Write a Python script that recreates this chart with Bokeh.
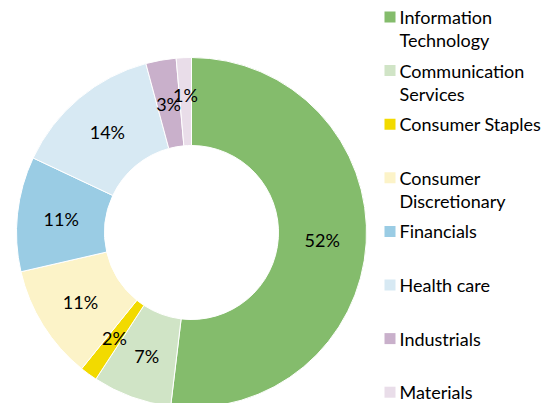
import math
from bokeh.plotting import figure
from bokeh.models import Range1d, ColumnDataSource
from bokeh.core.properties import value
from bokeh.embed import file_html
from bokeh.resources import INLINE

# ---- data ----
sectors = ["Information Technology", "Communication Services", "Consumer Staples",
           "Consumer Discretionary", "Financials", "Health care", "Industrials", "Materials"]
legend_lines = [["Information", "Technology"], ["Communication", "Services"], ["Consumer Staples"],
                ["Consumer", "Discretionary"], ["Financials"], ["Health care"], ["Industrials"], ["Materials"]]
shares = [51.9, 7.3, 1.6, 10.6, 10.6, 13.8, 2.8, 1.4]
colors = ["#84bc6c", "#d0e4c6", "#f2da00", "#fcf3c8", "#9acce4", "#d7e9f3", "#c9b0cb", "#e9dde9"]

W, H = 546, 403
FONT = "Lato"

p = figure(width=W, height=H, output_backend="svg", toolbar_location=None,
           x_range=Range1d(0, W), y_range=Range1d(0, H),
           min_border=0, outline_line_color=None)
p.axis.visible = False
p.grid.visible = False
p.background_fill_color = "white"

cx, cy = 191, H - 232
r_in, r_out = 87, 175
# label radius per slice (last tiny slice label pushed outward to avoid overlap)
label_r = [131, 131, 131, 131, 131, 131, 131, 138]

total = sum(shares)
starts, ends, lx, ly, labels = [], [], [], [], []
c = 0.0
for i, s in enumerate(shares):
    c0, c1 = c / total, (c + s) / total
    starts.append(math.pi / 2 - 2 * math.pi * c1)
    ends.append(math.pi / 2 - 2 * math.pi * c0)
    mid = math.pi / 2 - 2 * math.pi * (c0 + c1) / 2
    rm = label_r[i]
    lx.append(cx + rm * math.cos(mid))
    ly.append(cy + rm * math.sin(mid))
    labels.append(f"{round(s)}%")
    c += s

src = ColumnDataSource(dict(start=starts, end=ends, color=colors, lx=lx, ly=ly, label=labels))
p.annular_wedge(x=cx, y=cy, inner_radius=r_in, outer_radius=r_out,
                start_angle="start", end_angle="end", direction="anticlock",
                fill_color="color", line_color="white", line_width=1, source=src)
p.text(x="lx", y="ly", text="label", source=src, text_font=value(FONT),
       text_font_size="18px", text_color="#000000", text_align="center", text_baseline="middle")

# ---- legend ----
sq_x, sq_y, tx, ty, tt = [], [], [], [], []
for i, lines in enumerate(legend_lines):
    yc = H - (16.5 + 53.6 * i)
    sq_x.append(389.5)
    sq_y.append(yc)
    for j, ln in enumerate(lines):
        tx.append(399)
        ty.append(yc - 23 * j)
        tt.append(ln)
p.scatter(x=sq_x, y=sq_y, marker="square", size=11, fill_color=colors, line_color=None)
p.text(x=tx, y=ty, text=tt, text_font=value(FONT), text_font_size="18px",
       text_color="#000000", text_align="left", text_baseline="middle")

open("out.html", "w").write(file_html(p, INLINE))
